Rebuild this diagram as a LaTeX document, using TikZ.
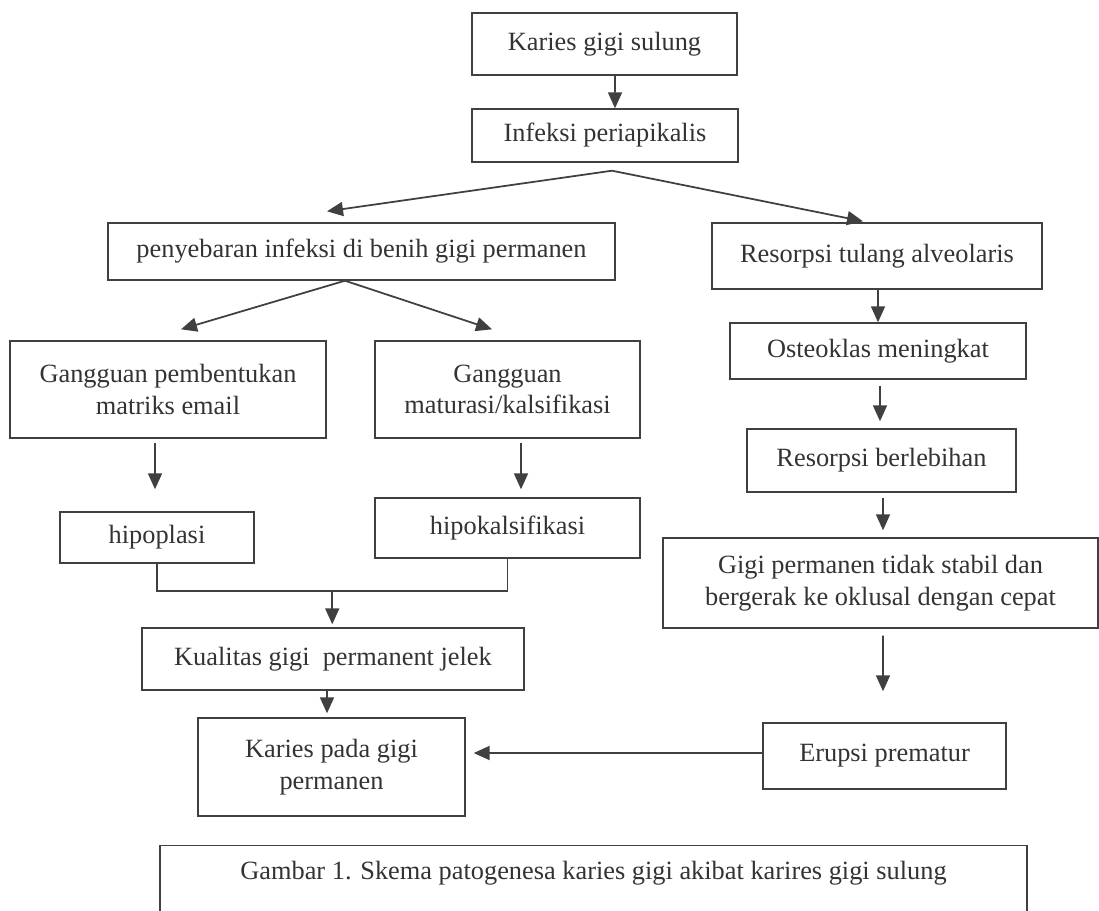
\documentclass[tikz,border=0pt]{standalone}
\usepackage{fontspec}
\setmainfont{Liberation Serif}
\usetikzlibrary{arrows.meta,calc}

\begin{document}
\begin{tikzpicture}[x=0.02cm, y=-0.02cm,
    every node/.style={font=\fontsize{15}{18}\selectfont, text=black!80},
    box/.style={draw=black!75, line width=0.8pt, align=center, inner sep=2pt},
    link/.style={draw=black!75, line width=1pt},
    arr/.style={link, -{Triangle[length=0.32cm, width=0.28cm]}}]
    \useasboundingbox (0,0) rectangle (1099,910);
    \clip (0,0) rectangle (1099,910);

    % Top of the scheme
    \node[box, minimum width=5.30cm, minimum height=1.24cm] (sulung) at (604.5,44) {Karies gigi sulung};
    \node[box, minimum width=5.32cm, minimum height=1.06cm] (infeksi) at (605,135.5) {Infeksi periapikalis};
    \draw[arr] ($(sulung.south)+(10.5,0)$) -- ($(infeksi.north)+(10,0)$);

    % Two branches
    \node[box, minimum width=10.14cm, minimum height=1.14cm] (sebar) at (361.5,251.5) {penyebaran infeksi di benih gigi permanen};
    \node[box, minimum width=6.60cm, minimum height=1.32cm] (resorpsi) at (877,256) {Resorpsi tulang alveolaris};
    \coordinate (split1) at ($(infeksi.south)+(7,8)$);
    \draw[arr] (split1) -- ($(sebar.north)+(-34.5,-11)$);
    \draw[arr] (split1) -- ($(resorpsi.north)+(-14,-1)$);

    % Left branch
    \node[box, minimum width=6.32cm, minimum height=1.94cm] (matriks) at (168,389.5) {Gangguan pembentukan\\matriks email};
    \node[box, minimum width=5.30cm, minimum height=1.94cm] (maturasi) at (507.5,389.5) {Gangguan\\maturasi/kalsifikasi};
    \coordinate (split2) at ($(sebar.south)+(-16.5,0)$);
    \draw[arr] (split2) -- ($(matriks.north)+(13,-11)$);
    \draw[arr] (split2) -- ($(maturasi.north)+(-15.5,-11)$);

    \node[box, minimum width=3.88cm, minimum height=1.02cm] (hipoplasi) at (157,537.5) {hipoplasi};
    \node[box, minimum width=5.30cm, minimum height=1.20cm] (hipokal) at (507.5,528) {hipokalsifikasi};
    \draw[arr] ($(hipoplasi.north |- matriks.south)+(-2,4)$) -- ($(hipoplasi.north)+(-2,-22)$);
    \draw[arr] ($(maturasi.south)+(13.5,4)$) -- ($(hipokal.north)+(13.5,-8)$);

    \node[box, minimum width=7.64cm, minimum height=1.24cm] (kualitas) at (333,659) {Kualitas gigi\ \ permanent jelek};
    \coordinate (join) at ($(hipoplasi.south)!0.5!(hipokal.south)+(0,29.5)$);
    \draw[link] (hipoplasi.south) |- (join) -| (hipokal.south);
    \draw[arr, shorten >=0.06cm] (join) -- (join |- kualitas.north);

    \node[box, minimum width=5.34cm, minimum height=1.96cm] (kariesperm) at (331.5,767) {Karies pada gigi\\permanen};
    \draw[arr] ($(kualitas.south)+(-6,0)$) -- ($(kariesperm.north)+(-4.5,-4)$);

    % Right branch
    \node[box, minimum width=5.92cm, minimum height=1.12cm] (osteoklas) at (878,351) {Osteoklas meningkat};
    \node[box, minimum width=5.38cm, minimum height=1.26cm] (berlebih) at (881.5,460.5) {Resorpsi berlebihan};
    \node[box, minimum width=8.70cm, minimum height=1.80cm] (goyang) at (880.5,583) {Gigi permanen tidak stabil dan\\bergerak ke oklusal dengan cepat};
    \node[box, minimum width=4.86cm, minimum height=1.32cm] (erupsi) at (884.5,756) {Erupsi prematur};
    \draw[arr] ($(resorpsi.south)+(1,0)$) -- (osteoklas.north);
    \draw[arr] ($(osteoklas.south)+(2,6)$) -- ($(berlebih.north)+(-1.5,-7)$);
    \draw[arr] ($(berlebih.south)+(1.5,5)$) -- ($(goyang.north)+(2.5,-7)$);
    \draw[arr] ($(goyang.south)+(2.5,7)$) -- ($(erupsi.north)+(-1.5,-31)$);
    \draw[arr] ($(erupsi.west)+(0,-3)$) -- ($(kariesperm.east |- erupsi.west)+(8,-3)$);

    % Caption
    \node[box, anchor=north, minimum width=17.34cm, inner ysep=0.32cm, text depth=1.6cm] (caption) at (593.5,845)
        {Gambar 1. Skema patogenesa karies gigi akibat karires gigi sulung};
\end{tikzpicture}
\end{document}
